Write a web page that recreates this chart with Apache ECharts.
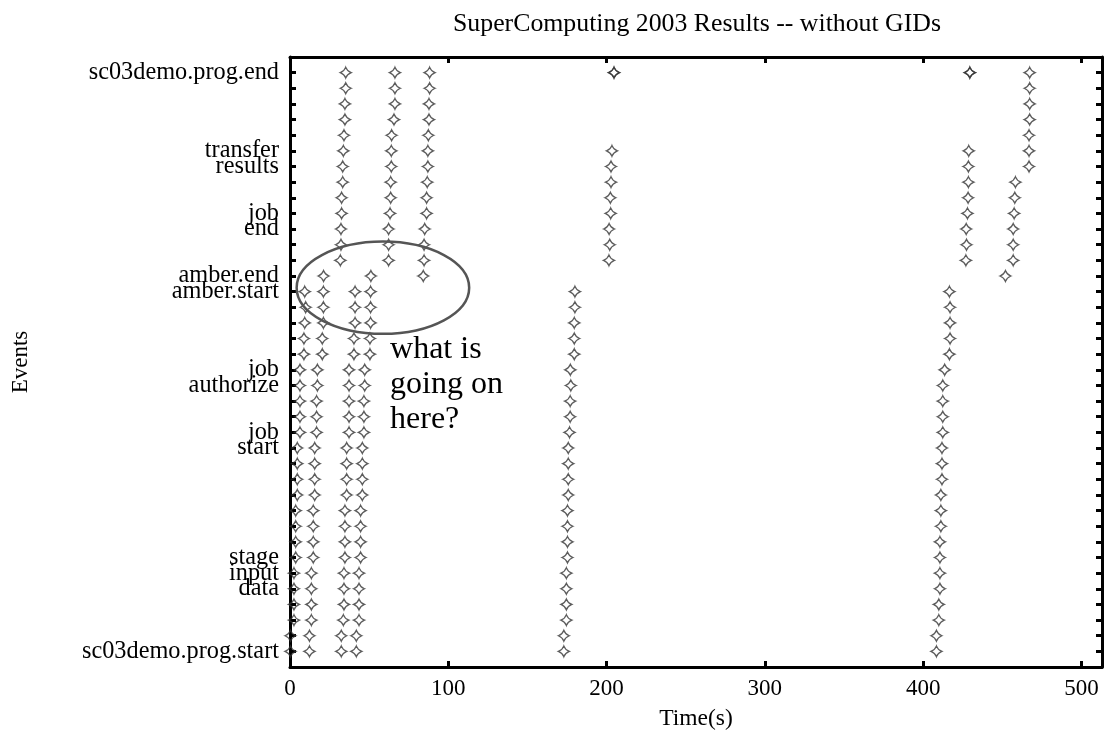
<!DOCTYPE html>
<html>
<head>
<meta charset="utf-8">
<script src="https://cdn.jsdelivr.net/npm/echarts@6/dist/echarts.min.js"></script>
<style>
html, body { margin: 0; padding: 0; background: #fff; }
#main { width: 1107px; height: 740px; }
</style>
</head>
<body>
<div id="main"></div>
<script>
var chartDom = document.getElementById('main');
var myChart = echarts.init(chartDom);

const FONT = '"Liberation Serif", "Times New Roman", serif';

// y rows, top (0) to bottom (37)
const rowLabels = [
    'sc03demo.prog.end', '', '', '', '', 'transfer', 'results', '', '', 'job',
    'end', '', '', 'amber.end', 'amber.start', '', '', '', '', 'job',
    'authorize', '', '', 'job', 'start', '', '', '', '', '',
    '', 'stage', 'input', 'data', '', '', '', 'sc03demo.prog.start'
];
const xTicks = [0, 100, 200, 300, 400, 500];

// rows 14..37 (amber.start down to sc03demo.prog.start)
const lowRunA = [9.3, 9.9, 9.3, 8.8, 8.8, 6.3, 6.3, 6.3, 6.3, 6.3, 4.6, 4.6, 4.6, 4.6, 3.6, 3.6, 3.6, 3.6, 2.5, 2.5, 2.5, 2.5, 0.3, 0.3];
const lowRunB = [21.1, 21.1, 21.1, 20.4, 20.4, 17.3, 17.3, 16.8, 16.8, 16.8, 15.6, 15.6, 15.6, 15.6, 14.7, 14.7, 14.7, 14.7, 13.5, 13.5, 13.5, 13.5, 12.3, 12.3];
const lowRunC = [41.1, 41.1, 41.1, 40.4, 40.4, 37.3, 37.3, 37.3, 37.3, 37.3, 35.8, 35.8, 35.8, 35.8, 34.7, 34.7, 34.7, 34.7, 34.1, 34.1, 34.1, 33.7, 32.4, 32.4];
const lowRunD = [50.9, 50.9, 50.9, 50.5, 50.5, 47.2, 47.2, 46.7, 46.7, 46.7, 45.7, 45.7, 45.7, 45.7, 44.6, 44.6, 44.6, 44.6, 43.6, 43.6, 43.6, 43.6, 41.9, 41.9];
const lowRunE = [180.0, 180.0, 179.6, 179.6, 179.6, 177.1, 177.4, 177.0, 177.0, 176.6, 175.8, 175.8, 175.8, 175.8, 175.3, 175.3, 175.3, 175.3, 174.6, 174.6, 174.6, 174.6, 173.0, 173.0];
const lowRunF = [416.6, 417.0, 417.0, 417.0, 416.6, 413.6, 412.4, 412.4, 412.4, 412.4, 411.9, 411.9, 411.9, 411.2, 411.2, 411.2, 410.6, 410.6, 410.6, 410.6, 409.9, 409.9, 408.4, 408.4];

// row 13 (amber.end)
const amberEndTimes = [21.2, 51.1, 84.2, 452.0];

// rows 0..12
const upRunA = [35.2, 35.2, 34.7, 34.7, 34.1, 33.7, 33.3, 33.3, 32.6, 32.6, 32.2, 32.2, 31.8];
const upRunB = [66.3, 66.3, 66.3, 65.7, 64.2, 64.0, 64.0, 63.6, 63.6, 63.2, 62.3, 62.3, 62.3];
const upRunC = [88.2, 88.2, 87.8, 87.8, 87.4, 87.1, 87.1, 86.7, 86.3, 86.3, 85.1, 84.7, 84.7];
// rows 5..12
const upRunE = [203.4, 202.8, 202.8, 202.4, 202.6, 201.6, 202.0, 201.5];
const upRunF = [428.8, 428.6, 428.6, 428.4, 428.0, 427.2, 427.4, 427.0];
// rows 0..6
const upRunG = [467.3, 467.3, 467.3, 467.3, 466.9, 466.9, 466.9];
// rows 7..12
const upRunH = [458.3, 457.9, 457.5, 456.9, 456.9, 456.9];
// row 0 (overlapping marks)
const progEndTimes = [204.7, 204.7, 429.5, 429.5];

// annotation, in data units: [xLeft, xRight, rowTop, rowBottom] and text anchor
const noteBox = [4.2, 113.2, 10.8, 16.7];
const noteAnchor = [63.2, 16.6];

function column(startRow, times) {
    return times.map((t, i) => [t, startRow + i]);
}

const points = [].concat(
    column(14, lowRunA), column(14, lowRunB), column(14, lowRunC), column(14, lowRunD),
    column(14, lowRunE), column(14, lowRunF),
    amberEndTimes.map(t => [t, 13]),
    column(0, upRunA), column(0, upRunB), column(0, upRunC),
    column(5, upRunE), column(5, upRunF), column(0, upRunG), column(7, upRunH),
    progEndTimes.map(t => [t, 0])
);

// four-point star with lightly curved sides
const star = 'path://M10,0 Q12.6,7.4 20,10 Q12.6,12.6 10,20 Q7.4,12.6 0,10 Q7.4,7.4 10,0 Z';

const frameLine = { show: true, onZero: false, lineStyle: { color: '#000', width: 3 } };
const frameTick = { show: true, inside: true, length: 6, lineStyle: { color: '#000', width: 3 } };

var option = {
    animation: false,
    backgroundColor: '#fff',
    title: {
        text: 'SuperComputing 2003 Results -- without GIDs',
        left: 692,
        top: 6,
        textAlign: 'center',
        textStyle: { fontFamily: FONT, fontSize: 25.8, fontWeight: 'normal', color: '#000' }
    },
    grid: { left: 290, right: 5, top: 57, bottom: 73 },
    xAxis: [
        {
            type: 'value',
            position: 'bottom',
            min: 0, max: 513, interval: 100,
            name: 'Time(s)',
            nameLocation: 'middle',
            nameGap: 40,
            nameTextStyle: { fontFamily: FONT, fontSize: 23.5, color: '#000' },
            axisLine: frameLine,
            axisTick: frameTick,
            axisLabel: {
                fontFamily: FONT, fontSize: 23, color: '#000', margin: 10,
                formatter: v => (xTicks.indexOf(v) >= 0 ? String(v) : '')
            },
            splitLine: { show: false }
        },
        {
            type: 'value',
            position: 'top',
            min: 0, max: 513, interval: 100,
            axisLine: frameLine,
            axisTick: frameTick,
            axisLabel: { show: false },
            splitLine: { show: false }
        }
    ],
    yAxis: [
        {
            type: 'value',
            position: 'left',
            inverse: true,
            min: -1, max: 38, interval: 1,
            name: 'Events',
            nameLocation: 'middle',
            nameRotate: 90,
            nameGap: 258,
            nameTextStyle: { fontFamily: FONT, fontSize: 23, color: '#000' },
            axisLine: frameLine,
            axisTick: frameTick,
            axisLabel: {
                fontFamily: FONT, fontSize: 24.3, color: '#000', margin: 11,
                formatter: v => rowLabels[v] || ''
            },
            splitLine: { show: false }
        },
        {
            type: 'value',
            position: 'right',
            inverse: true,
            min: -1, max: 38, interval: 1,
            axisLine: frameLine,
            axisTick: frameTick,
            axisLabel: { show: false },
            splitLine: { show: false }
        }
    ],
    series: [
        {
            type: 'scatter',
            xAxisIndex: 0,
            yAxisIndex: 0,
            symbol: star,
            symbolSize: 11,
            itemStyle: { color: 'rgba(0,0,0,0)', borderColor: '#333', borderWidth: 1.2 },
            emphasis: { disabled: true },
            data: points
        }
    ]
};

myChart.setOption(option);

// annotation placed from data coordinates
const p1 = myChart.convertToPixel({ seriesIndex: 0 }, [noteBox[0], noteBox[2]]);
const p2 = myChart.convertToPixel({ seriesIndex: 0 }, [noteBox[1], noteBox[3]]);
const pt = myChart.convertToPixel({ seriesIndex: 0 }, noteAnchor);
myChart.setOption({
    graphic: [
        {
            type: 'ellipse',
            shape: {
                cx: (p1[0] + p2[0]) / 2, cy: (p1[1] + p2[1]) / 2,
                rx: Math.abs(p2[0] - p1[0]) / 2, ry: Math.abs(p2[1] - p1[1]) / 2
            },
            style: { fill: 'none', stroke: '#555', lineWidth: 2.5 },
            z: 10
        },
        {
            type: 'text',
            x: pt[0], y: pt[1],
            style: {
                text: 'what is\ngoing on\nhere?',
                font: '32px "Liberation Serif"',
                lineHeight: 35,
                fill: '#000',
                align: 'left',
                verticalAlign: 'top'
            },
            z: 10
        }
    ]
});
</script>
</body>
</html>
